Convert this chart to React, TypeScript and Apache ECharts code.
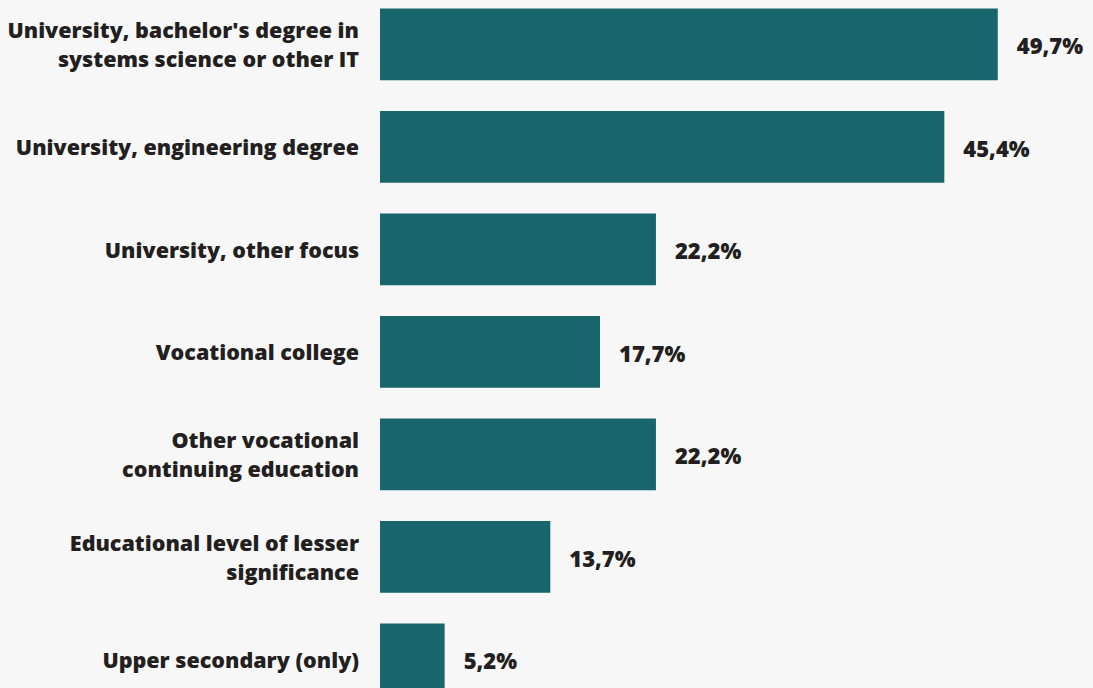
import React, { useEffect, useRef } from "react";
import * as echarts from "echarts";

const categories = [
  "University, bachelor's degree in\nsystems science or other IT",
  "University, engineering degree",
  "University, other focus",
  "Vocational college",
  "Other vocational\ncontinuing education",
  "Educational level of lesser\nsignificance",
  "Upper secondary (only)",
];
const values = [49.7, 45.4, 22.2, 17.7, 22.2, 13.7, 5.2];

const fmt = (v: number) => v.toFixed(1).replace(".", ",") + "%";

export default function App() {
  const ref = useRef<HTMLDivElement>(null);
  useEffect(() => {
    if (!ref.current) return;
    const chart = echarts.init(ref.current, null, { renderer: "svg" });
    const pxPerUnit = 12.43;
    const max = 57;
    chart.setOption({
      animation: false,
      backgroundColor: "#f7f7f7",
      grid: { left: 380, top: 0, width: pxPerUnit * max, height: 717.5, containLabel: false },
      xAxis: { type: "value", min: 0, max, show: false },
      yAxis: {
        type: "category",
        data: categories,
        inverse: true,
        axisLine: { show: false },
        axisTick: { show: false },
        axisLabel: {
          margin: 21,
          align: "right",
          color: "#231f20",
          fontFamily: "Open Sans",
          fontWeight: 800,
          fontSize: 21.5,
          lineHeight: 29,
        },
      },
      series: [
        {
          type: "bar",
          data: values,
          barCategoryGap: "30%",
          itemStyle: { color: "#18656b" },
          label: {
            show: true,
            position: "right",
            distance: 19,
            offset: [0, 1],
            formatter: (p: any) => fmt(p.value),
            color: "#231f20",
            fontFamily: "Open Sans",
            fontWeight: 800,
            fontSize: 22,
          },
        },
      ],
    });
    return () => chart.dispose();
  }, []);
  return (
    <div
      ref={ref}
      style={{ position: "absolute", left: 0, top: -7, width: 1093, height: 718 }}
    />
  );
}
